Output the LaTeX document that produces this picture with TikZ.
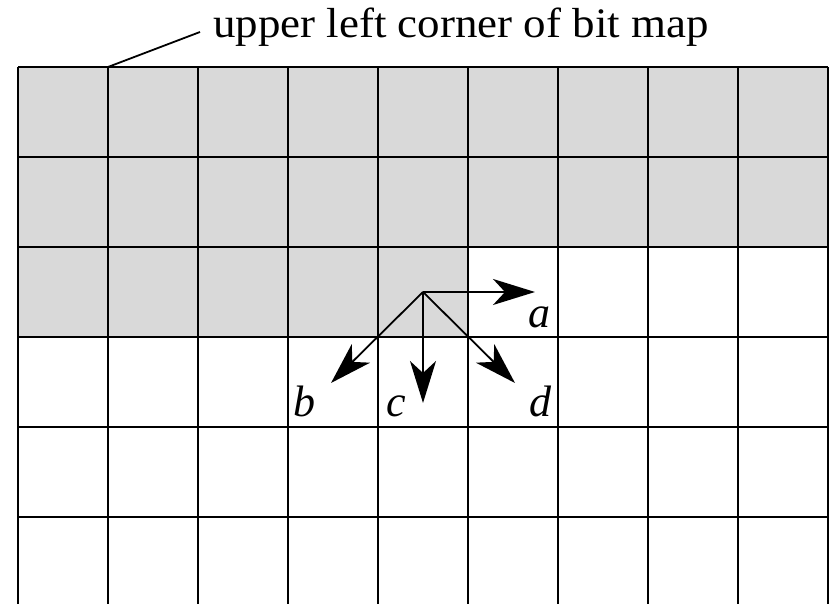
\documentclass[tikz,border=0pt]{standalone}
\usepackage{fontspec}
\setmainfont{Liberation Serif}
\usetikzlibrary{arrows.meta}

\begin{document}
\begin{tikzpicture}[x=1pt, y=1pt,
      gridline/.style={line width=1.6pt},
      arr/.style={-{Stealth[length=42pt, width=26pt, inset=12pt]}, line width=1.8pt},
      lbl/.style={font=\fontsize{44}{48}\selectfont\itshape, inner sep=0pt}]
  \useasboundingbox (0,0) rectangle (835,604);
  % shaded part of the bit map
  \fill[gray!30] (18,537) rectangle (828,357);
  \fill[gray!30] (18,357) rectangle (468,267);
  \foreach \x in {18,108,...,828}
    \draw[gridline] (\x,537) -- (\x,0);
  \foreach \y in {537,447,...,87}
    \draw[gridline] (18,\y) -- (828,\y);
  % caption
  \node[anchor=base west, inner sep=0pt, xscale=1.07, font=\fontsize{42}{46}\selectfont] (cap) at (213,566) {upper left corner of bit map};
  \coordinate (corner) at (108,537);
  \draw[line width=1.8pt] (corner) -- ([shift={(-13pt,6pt)}]cap.base west);
  % directions from the pixel
  \coordinate (pix) at (423,312);
  \coordinate (ea) at (535,312);
  \coordinate (eb) at (331,221);
  \coordinate (ec) at (423,201);
  \coordinate (ed) at (515,221);
  \draw[arr] (pix) -- (ea);
  \draw[arr] (pix) -- (eb);
  \draw[arr] (pix) -- (ec);
  \draw[arr] (pix) -- (ed);
  \node[lbl, anchor=base east] (la) at (551,276) {a};
  \node[lbl, anchor=base west] (lb) at (293,187) {b};
  \node[lbl, anchor=base west] (lc) at (386,187) {c};
  \node[lbl, anchor=base east] (ld) at (552,187) {d};
\end{tikzpicture}
\end{document}
